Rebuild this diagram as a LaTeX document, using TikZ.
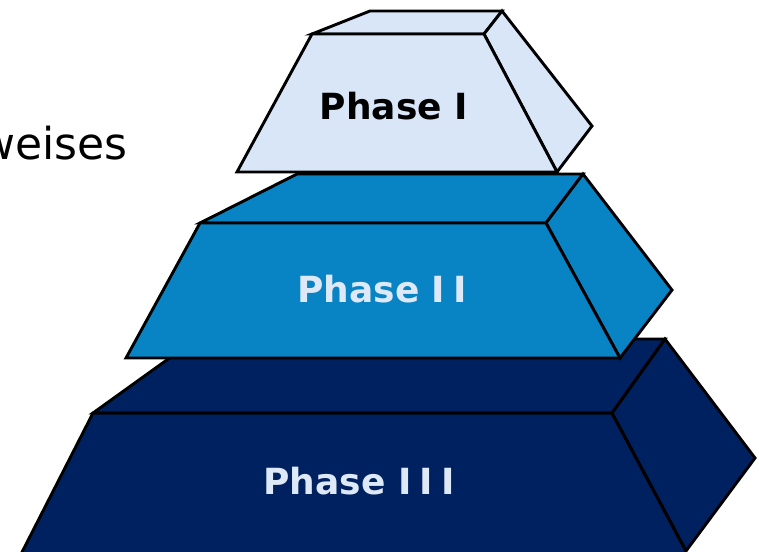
\documentclass[tikz,border=0pt]{standalone}
\usepackage{fontspec}
\setmainfont{DejaVu Sans}
\definecolor{tierlight}{RGB}{217,230,248}
\definecolor{tiermid}{RGB}{8,131,196}
\definecolor{tierdark}{RGB}{0,33,96}
\definecolor{labellight}{RGB}{222,233,248}
\begin{document}
\begin{tikzpicture}[x=1pt,y=-1pt,
  tier/.style={draw=black,line width=2.9pt,line join=miter},
  tierlabel/.style={font=\fontsize{36}{40}\selectfont\bfseries,inner sep=0pt,anchor=base}]
\useasboundingbox (0,0) rectangle (759,551);
\clip (0,0) rectangle (759,551);

% caption word running in from the left
\node[font=\fontsize{44}{50}\selectfont,inner sep=0pt,anchor=base east] (caption) at (128,159) {weises};

% ---- bottom tier ----
\coordinate (c-bl) at (196,339);
\coordinate (c-br) at (665,339);
\coordinate (c-fl) at (93,413);
\coordinate (c-fr) at (612,413);
\coordinate (c-tip) at (755,458);
\coordinate (c-lr) at (686,551);
\coordinate (c-ll) at (18,560);
\fill[tierdark] (c-fl) -- (c-bl) -- (c-br) -- (c-tip) -- (c-lr) -- (686,560) -- (c-ll) -- cycle;
\draw[tier] (c-fl) -- (c-bl) -- (c-br) -- (c-fr) -- cycle;
\draw[tier] (c-fr) -- (c-br) -- (c-tip) -- (c-lr) -- cycle;
\draw[tier] (c-ll) -- (c-fl) -- (c-fr) -- (c-lr);
\node[tierlabel,text=labellight] (p3) at (359,494) {Phase I\kern8pt I\kern8pt I};

% ---- middle tier ----
\coordinate (b-bl) at (297,174);
\coordinate (b-br) at (583,174);
\coordinate (b-fl) at (200,223);
\coordinate (b-fr) at (546,223);
\coordinate (b-tip) at (672,290);
\coordinate (b-lr) at (620,358);
\coordinate (b-ll) at (126,358);
\filldraw[tier,fill=tiermid] (b-fl) -- (b-bl) -- (b-br) -- (b-fr) -- cycle;
\filldraw[tier,fill=tiermid] (b-fr) -- (b-br) -- (b-tip) -- (b-lr) -- cycle;
\filldraw[tier,fill=tiermid] (b-fl) -- (b-fr) -- (b-lr) -- (b-ll) -- cycle;
\node[tierlabel,text=labellight] (p2) at (382,302) {Phase I\kern8pt I};

% ---- top tier ----
\coordinate (a-bl) at (370,11);
\coordinate (a-br) at (502,11);
\coordinate (a-fl) at (312,34);
\coordinate (a-fr) at (484,34);
\coordinate (a-tip) at (592,126);
\coordinate (a-lr) at (557,172);
\coordinate (a-ll) at (237,172);
\filldraw[tier,fill=tierlight] (a-fl) -- (a-bl) -- (a-br) -- (a-fr) -- cycle;
\filldraw[tier,fill=tierlight] (a-fr) -- (a-br) -- (a-tip) -- (a-lr) -- cycle;
\filldraw[tier,fill=tierlight] (a-fl) -- (a-fr) -- (a-lr) -- (a-ll) -- cycle;
\node[tierlabel,text=black] (p1) at (394,119) {Phase I};
\end{tikzpicture}
\end{document}
